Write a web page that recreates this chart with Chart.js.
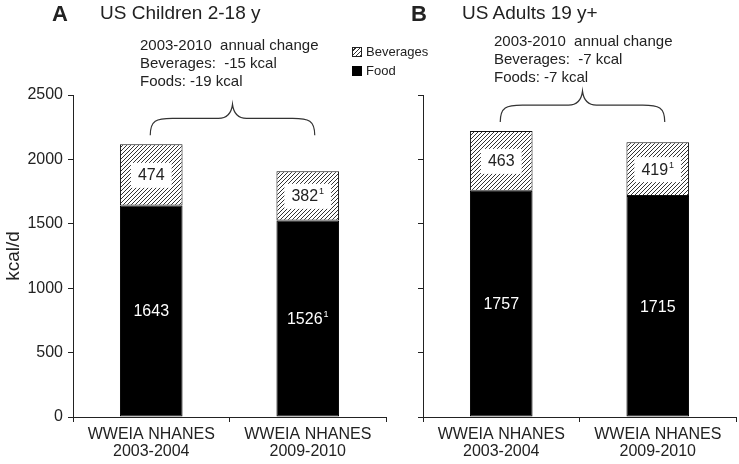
<!DOCTYPE html>
<html>
<head>
<meta charset="utf-8">
<script src="https://cdn.jsdelivr.net/npm/chart.js@4.4.1/dist/chart.umd.min.js"></script>
<style>
    body { margin: 0; background: #fff; font-family: "Liberation Sans", Arial, sans-serif; color: #222; }
    #wrap { position: relative; width: 739px; height: 464px; overflow: hidden; }
    canvas { position: absolute; top: 0; }
    #chartA { left: 0; }
    #chartB { left: 390px; }
    .txt { position: absolute; white-space: pre; }
    .big { font-weight: bold; font-size: 22px; }
    .title { font-size: 19px; }
    .note { font-size: 15px; line-height: 18px; }
    .leg { font-size: 13px; display: flex; align-items: center; }
    .sw { width: 8px; height: 8px; border: 1px solid #222; margin-right: 4px; }
    .hatch { background: repeating-linear-gradient(-45deg, #333 0 1px, #fff 1px 3px); }
    .solid { background: #000; border-color: #000; }
</style>
</head>
<body>
<div id="wrap">
    <canvas id="chartA" width="445" height="464"></canvas>
    <canvas id="chartB" width="349" height="464"></canvas>

    <div class="txt big" style="left:52px; top:1px;">A</div>
    <div class="txt title" style="left:100px; top:2px;">US Children 2-18 y</div>
    <div class="txt big" style="left:411px; top:1px;">B</div>
    <div class="txt title" style="left:462px; top:2px;">US Adults 19 y+</div>

    <div class="txt note" style="left:140px; top:36px;">2003-2010  annual change
Beverages:  -15 kcal
Foods: -19 kcal</div>
    <div class="txt note" style="left:494px; top:32px;">2003-2010  annual change
Beverages:  -7 kcal
Foods: -7 kcal</div>

    <div class="txt leg" style="left:352px; top:44px;"><span class="sw hatch"></span>Beverages</div>
    <div class="txt leg" style="left:352px; top:63px;"><span class="sw solid"></span>Food</div>
</div>

<script>
// 데이터
const categories = [['WWEIA NHANES', '2003-2004'], ['WWEIA NHANES', '2009-2010']];
const childFood = [1643, 1526];
const childBev = [474, 382];
const adultFood = [1757, 1715];
const adultBev = [463, 419];
// 각주 표시 (위첨자 1)
const childFoodNote = ['', '1'];
const childBevNote = ['', '1'];
const adultFoodNote = ['', ''];
const adultBevNote = ['', '1'];
const yTicks = [0, 500, 1000, 1500, 2000, 2500];

const FONT = '"Liberation Sans", Arial, sans-serif';

// 빗금 패턴
function hatchPattern() {
    const c = document.createElement('canvas');
    c.width = 4;
    c.height = 4;
    const g = c.getContext('2d');
    g.fillStyle = '#fff';
    g.fillRect(0, 0, 4, 4);
    g.strokeStyle = '#333';
    g.lineWidth = 1;
    g.beginPath();
    g.moveTo(0, 4); g.lineTo(4, 0);
    g.moveTo(-1, 1); g.lineTo(1, -1);
    g.moveTo(3, 5); g.lineTo(5, 3);
    g.stroke();
    return g.createPattern(c, 'repeat');
}

// 막대 안 숫자 라벨
const valueLabels = {
    id: 'valueLabels',
    afterDatasetsDraw(chart, args, opts) {
        const ctx = chart.ctx;
        ctx.save();
        chart.data.datasets.forEach((ds, di) => {
            const meta = chart.getDatasetMeta(di);
            meta.data.forEach((bar, i) => {
                const cy = (bar.y + bar.base) / 2;
                const txt = String(ds.data[i]);
                const sup = ds.notes[i];
                ctx.font = '16px ' + FONT;
                const w1 = ctx.measureText(txt).width;
                ctx.font = '9px ' + FONT;
                const w2 = sup ? ctx.measureText(sup).width + 1 : 0;
                const w = w1 + w2;
                const x0 = bar.x - w / 2;
                if (ds.boxed) {
                    ctx.fillStyle = '#fff';
                    ctx.fillRect(x0 - 7, cy - 12, w + 14, 25);
                }
                ctx.fillStyle = ds.boxed ? '#222' : '#fff';
                ctx.textBaseline = 'middle';
                ctx.textAlign = 'left';
                ctx.font = '16px ' + FONT;
                ctx.fillText(txt, x0, cy + 1);
                if (sup) {
                    ctx.font = '9px ' + FONT;
                    ctx.fillText(sup, x0 + w1 + 1, cy - 4);
                }
            });
        });
        ctx.restore();
    }
};

// 중괄호
const brace = {
    id: 'brace',
    afterDraw(chart) {
        const meta = chart.getDatasetMeta(1);
        const a = meta.data[0], b = meta.data[1];
        const top = Math.min(a.y, b.y);
        const x0 = a.x - 1, x1 = b.x + 7;
        const xm = (x0 + x1) / 2;
        const yE = top - 9, yH = yE - 17, yP = yE - 31;
        const ctx = chart.ctx;
        ctx.save();
        ctx.strokeStyle = '#333';
        ctx.lineWidth = 1.2;
        ctx.beginPath();
        ctx.moveTo(x0, yE);
        ctx.bezierCurveTo(x0, yH + 2, x0 + 6, yH, x0 + 22, yH);
        ctx.lineTo(xm - 14, yH);
        ctx.bezierCurveTo(xm - 5, yH, xm - 1, yH - 6, xm, yP);
        ctx.bezierCurveTo(xm + 1, yH - 6, xm + 5, yH, xm + 14, yH);
        ctx.lineTo(x1 - 22, yH);
        ctx.bezierCurveTo(x1 - 6, yH, x1, yH + 2, x1, yE);
        ctx.stroke();
        ctx.restore();
    }
};

function makeChart(id, food, bev, foodNote, bevNote, showLabels, padRight, yWidth) {
    const ctx = document.getElementById(id).getContext('2d');
    return new Chart(ctx, {
        type: 'bar',
        data: {
            labels: categories,
            datasets: [
                {
                    label: 'Food',
                    data: food,
                    notes: foodNote,
                    boxed: false,
                    backgroundColor: '#000',
                    borderColor: '#000',
                    borderWidth: 1,
                    borderSkipped: false,
                    categoryPercentage: 1,
                    barPercentage: 0.4
                },
                {
                    label: 'Beverages',
                    data: bev,
                    notes: bevNote,
                    boxed: true,
                    backgroundColor: hatchPattern(),
                    borderColor: '#111',
                    borderWidth: 1,
                    borderSkipped: false,
                    categoryPercentage: 1,
                    barPercentage: 0.4
                }
            ]
        },
        options: {
            responsive: false,
            animation: false,
            layout: { padding: { top: 95, right: padRight, left: 0, bottom: 0 } },
            plugins: {
                legend: { display: false },
                tooltip: { enabled: false }
            },
            scales: {
                x: {
                    stacked: true,
                    grid: { drawOnChartArea: false, drawTicks: true, tickLength: 5, color: '#222', offset: true },
                    border: { display: true, color: '#222', width: 1 },
                    ticks: {
                        color: '#222',
                        padding: 4,
                        maxRotation: 0,
                        font: { family: FONT, size: 16, lineHeight: 1.08 }
                    },
                    afterFit(s) { s.height = 47; }
                },
                y: {
                    stacked: true,
                    min: 0,
                    max: 2500,
                    afterBuildTicks(s) { s.ticks = yTicks.map(v => ({ value: v })); },
                    grid: { drawOnChartArea: false, drawTicks: true, tickLength: 5, color: '#222' },
                    border: { display: true, color: '#222', width: 1 },
                    ticks: {
                        color: showLabels ? '#222' : 'rgba(0,0,0,0)',
                        padding: 5,
                        font: { family: FONT, size: 16 },
                        callback: v => String(v)
                    },
                    title: {
                        display: showLabels,
                        text: 'kcal/d',
                        color: '#222',
                        font: { family: FONT, size: 19 },
                        padding: { top: 2, bottom: 0 }
                    },
                    afterFit(s) { s.width = yWidth; }
                }
            }
        },
        plugins: [valueLabels, brace]
    });
}

makeChart('chartA', childFood, childBev, childFoodNote, childBevNote, true, 59, 73);
makeChart('chartB', adultFood, adultBev, adultFoodNote, adultBevNote, false, 3, 33);
</script>
</body>
</html>
